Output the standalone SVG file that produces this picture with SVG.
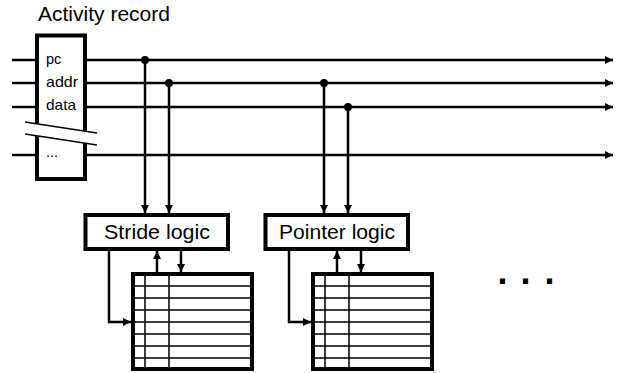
<svg xmlns="http://www.w3.org/2000/svg" width="619" height="373" viewBox="0 0 619 373">
<defs>
<style>
.t{font-family:"Liberation Sans",Arial,sans-serif;fill:#000}
.box{fill:#fff;stroke:#000;stroke-width:4}
.w{fill:none;stroke:#000;stroke-width:2.5}
.thin{fill:none;stroke:#000;stroke-width:1.5}
</style>
<marker id="ah" viewBox="0 0 10 10" refX="10" refY="5" markerWidth="9" markerHeight="8" markerUnits="userSpaceOnUse" orient="auto">
<path d="M0,0 L10,5 L0,10 Z" fill="#000"/>
</marker>
</defs>
<rect width="619" height="373" fill="#fff"/>

<g id="connectors">
<line class="w" x1="12" y1="60" x2="37" y2="60"/>
<line class="w" x1="12" y1="83" x2="37" y2="83"/>
<line class="w" x1="12" y1="107" x2="37" y2="107"/>
<line class="w" x1="12" y1="155" x2="37" y2="155"/>
<line class="w" x1="85" y1="60" x2="613" y2="60" marker-end="url(#ah)"/>
<line class="w" x1="85" y1="83" x2="613" y2="83" marker-end="url(#ah)"/>
<line class="w" x1="85" y1="107" x2="613" y2="107" marker-end="url(#ah)"/>
<line class="w" x1="85" y1="155" x2="613" y2="155" marker-end="url(#ah)"/>
<circle cx="145" cy="60" r="4"/>
<circle cx="169" cy="83" r="4"/>
<circle cx="324" cy="83" r="4"/>
<circle cx="348" cy="107" r="4"/>
<line class="w" x1="145" y1="60" x2="145" y2="213" marker-end="url(#ah)"/>
<line class="w" x1="169" y1="83" x2="169" y2="213" marker-end="url(#ah)"/>
<line class="w" x1="324" y1="83" x2="324" y2="213" marker-end="url(#ah)"/>
<line class="w" x1="348" y1="107" x2="348" y2="213" marker-end="url(#ah)"/>
<line class="w" x1="157" y1="272" x2="157" y2="251" marker-end="url(#ah)"/>
<line class="w" x1="181" y1="251" x2="181" y2="272" marker-end="url(#ah)"/>
<polyline class="w" points="109,251 109,322 131,322" marker-end="url(#ah)"/>
<line class="w" x1="337" y1="272" x2="337" y2="251" marker-end="url(#ah)"/>
<line class="w" x1="361" y1="251" x2="361" y2="272" marker-end="url(#ah)"/>
<polyline class="w" points="289,251 289,322 311,322" marker-end="url(#ah)"/>
</g>

<g id="activity-record">
<text class="t" x="38" y="21" font-size="19.5" textLength="132" lengthAdjust="spacingAndGlyphs">Activity record</text>
<rect class="box" x="37" y="35.5" width="48" height="143.5"/>
<polygon points="22,121 100,133 100,146 22,134" fill="#fff"/>
<line class="thin" x1="25" y1="122" x2="97" y2="133"/>
<line class="thin" x1="25" y1="134" x2="97" y2="145"/>
<text class="t" x="46" y="64" font-size="14.5">pc</text>
<text class="t" x="46" y="87" font-size="14.5" textLength="32" lengthAdjust="spacingAndGlyphs">addr</text>
<text class="t" x="46" y="110" font-size="14.5" textLength="30" lengthAdjust="spacingAndGlyphs">data</text>
<text class="t" x="46" y="157" font-size="14.5">...</text>
</g>

<g id="stride-logic">
<rect class="box" x="85.5" y="215" width="142.5" height="34"/>
<text class="t" x="157" y="239" font-size="20" text-anchor="middle" textLength="106" lengthAdjust="spacingAndGlyphs">Stride logic</text>
</g>

<g id="pointer-logic">
<rect class="box" x="265.5" y="215" width="142.5" height="34"/>
<text class="t" x="337" y="239" font-size="20" text-anchor="middle" textLength="116" lengthAdjust="spacingAndGlyphs">Pointer logic</text>
</g>

<g id="stride-table">
<rect class="box" x="133" y="274" width="119" height="95"/>
<path class="thin" d="M133,286H252M133,298H252M133,310H252M133,322H252M133,334H252M133,346H252M133,358H252M145,274V369M169,274V369"/>
</g>

<g id="pointer-table">
<rect class="box" x="313" y="274" width="119" height="95"/>
<path class="thin" d="M313,286H432M313,298H432M313,310H432M313,322H432M313,334H432M313,346H432M313,358H432M325,274V369M349,274V369"/>
</g>

<g id="ellipsis">
<text class="t" x="497.5 520.5 544.5" y="284" font-size="36" font-weight="bold">...</text>
</g>
</svg>
